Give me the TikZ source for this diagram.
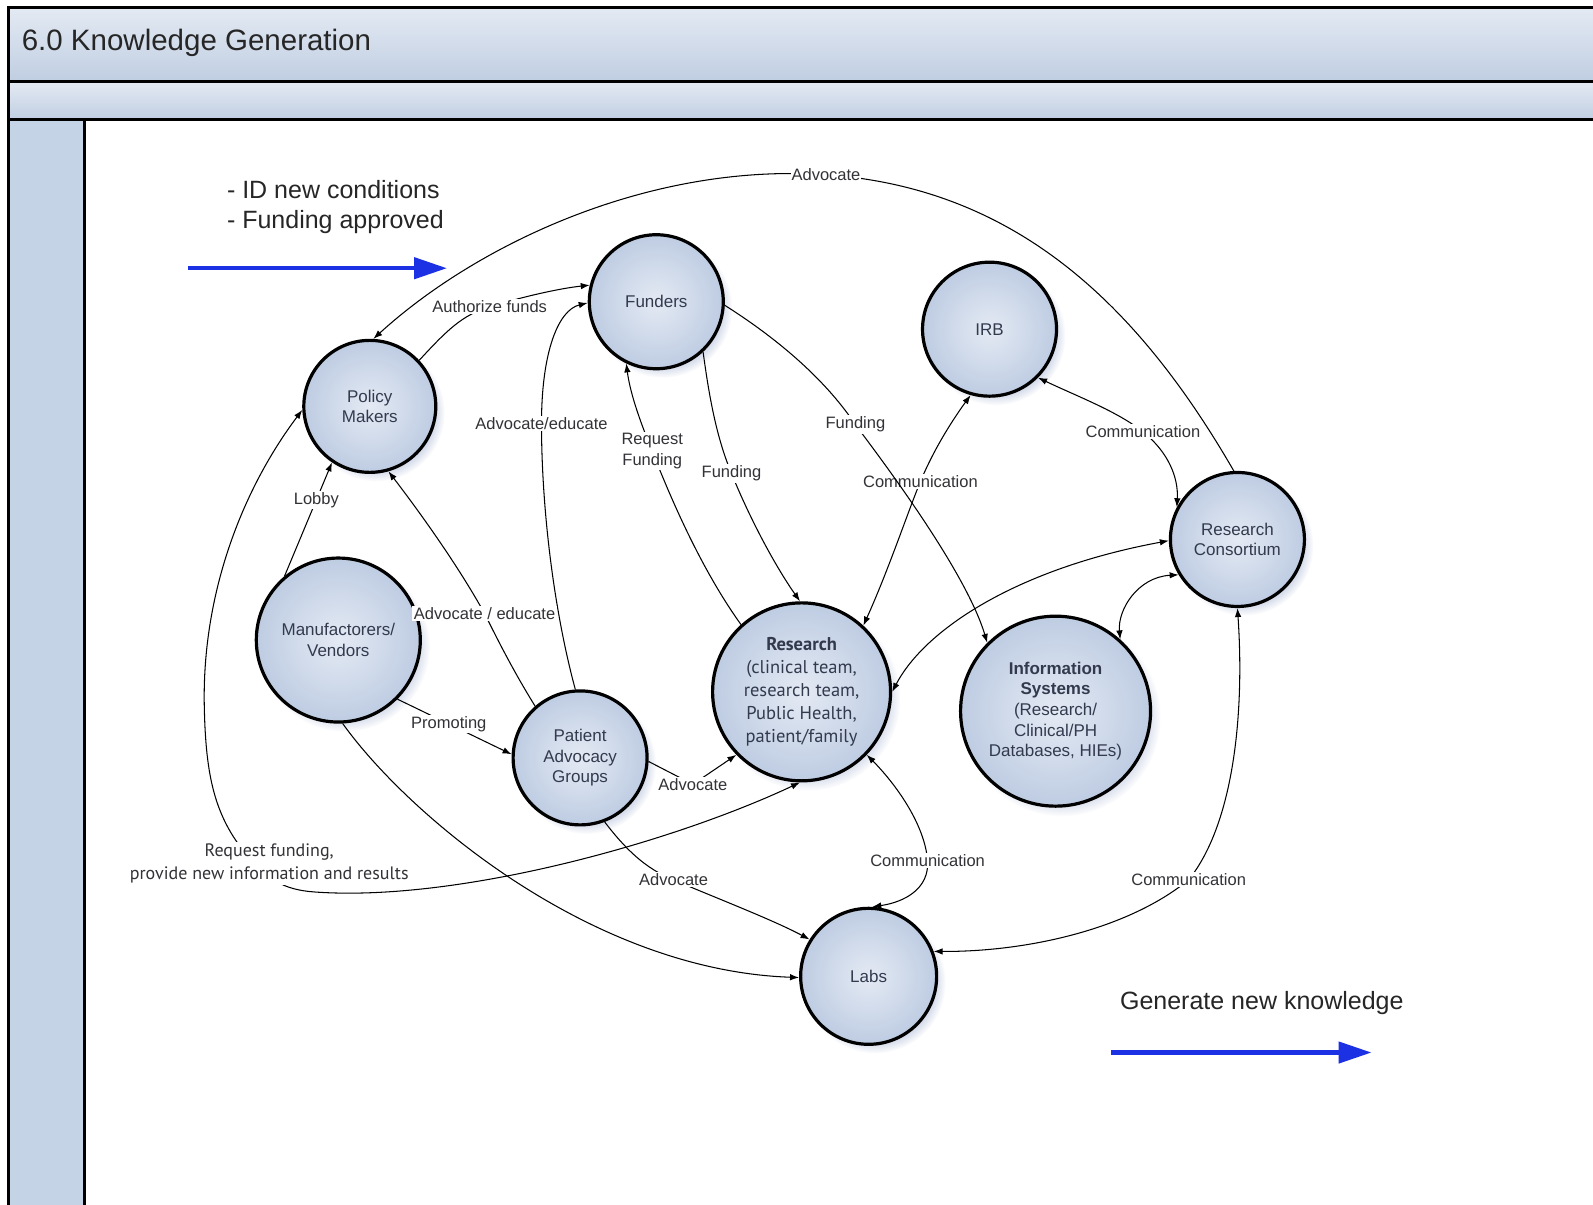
\documentclass[tikz,border=0pt]{standalone}
\usepackage{fontspec}
\setmainfont{Liberation Sans}
\newfontfamily\humanist{PT Sans}
\usetikzlibrary{arrows.meta,shadows,fadings}

\definecolor{bandtop}{RGB}{228,234,243}
\definecolor{bandbot}{RGB}{192,206,226}
\definecolor{colfill}{RGB}{197,211,230}
\definecolor{discin}{RGB}{228,234,244}
\definecolor{discout}{RGB}{190,204,226}
\definecolor{discshade}{RGB}{204,212,230}
\definecolor{nodetext}{RGB}{50,58,78}
\definecolor{lbltext}{RGB}{50,50,55}
\definecolor{flowblue}{RGB}{28,48,228}

\begin{document}
\begin{tikzpicture}[x=1.016pt,y=-1.016pt,
  ent/.style={circle, draw=black, line width=3.2pt, inner color=discin, outer color=discout,
    circular drop shadow={shadow xshift=6pt, shadow yshift=-6pt, shadow scale=1.04, fill=discshade, opacity=0.85},
    align=center, text=nodetext, font=\fontsize{17}{20.6}\selectfont, inner sep=0pt},
  lbl/.style={fill=white, inner sep=1.5pt, text=lbltext, align=center,
    font=\fontsize{16.5}{20.3}\selectfont},
  arr/.style={-{Latex[length=9pt,width=6.5pt]}, line width=1.05pt},
  biarr/.style={{Latex[length=9pt,width=6.5pt]}-{Latex[length=9pt,width=6.5pt]}, line width=1.05pt},
  flow/.style={-{Triangle[length=33pt,width=21pt]}, line width=4.5pt, draw=flowblue},
  bigtext/.style={text=black!85, font=\fontsize{25}{30.5}\selectfont, align=left}]

\useasboundingbox (0,0) rectangle (1568,1186);
\fill[white] (0,0) rectangle (1568,1186);

% swimlane frame
\draw[line width=3pt, top color=bandtop, bottom color=bandbot] (8,7) rectangle (1600,80);
\draw[line width=3pt, top color=bandtop, bottom color=bandbot] (8,80) rectangle (1600,118);
\draw[line width=3pt, fill=colfill] (8,118) rectangle (83,1200);
\node[anchor=west, text=black!85, font=\fontsize{29.5}{34}\selectfont] (title) at (18,42) {6.0 Knowledge Generation};

% side notes with flow arrows
\node[bigtext, anchor=west] (notes) at (220,204) {- ID new conditions\\- Funding approved};
\coordinate (inA) at (185,264);
\coordinate (inB) at (440,264);
\draw[flow] (inA) -- (inB);
\node[bigtext, anchor=west] (outtext) at (1099,987) {Generate new knowledge};
\coordinate (outA) at (1094,1036);
\coordinate (outB) at (1350,1036);
\draw[flow] (outA) -- (outB);

% actors
\node[ent, minimum size=132pt] (policy) at (364,400) {Policy\\Makers};
\node[ent, minimum size=134pt] (funders) at (646,297) {Funders};
\node[ent, minimum size=134pt] (irb) at (974,324) {IRB};
\node[ent, minimum size=164pt] (manuf) at (333,630) {Manufactorers/\\Vendors};
\node[ent, minimum size=134pt] (patient) at (571,746) {Patient\\Advocacy\\Groups};
\node[ent, minimum size=178pt, font=\humanist\fontsize{18.5}{22.8}\selectfont] (research) at (789,681)
  {\textbf{Research}\\(clinical team,\\research team,\\Public Health,\\patient/family};
\node[ent, minimum size=190pt] (infosys) at (1039,700)
  {\textbf{Information}\\\textbf{Systems}\\(Research/\\Clinical/PH\\Databases, HIEs)};
\node[ent, minimum size=134pt] (consort) at (1218,531) {Research\\Consortium};
\node[ent, minimum size=136pt] (labs) at (855,961) {Labs};

% interactions
\draw[arr] (consort.93) .. controls (1120,300) and (1000,185) .. (813,172)
  node[lbl, inner sep=1pt] (l-advtop) {Advocate}
  .. controls (640,160) and (470,240) .. (policy.87);

\draw[arr] (policy.43) .. controls (440,325) and (455,310) .. (482,302)
  node[lbl] (l-auth) {Authorize funds}
  .. controls (515,292) and (550,284) .. (funders.166);

\draw[arr] (patient.94) .. controls (545,600) and (533,500) .. (533,417)
  node[lbl] (l-adved) {Advocate/educate}
  .. controls (533,345) and (550,305) .. (funders.181);

\draw[arr] (research.132) .. controls (690,560) and (660,490) .. (642,444)
  node[lbl] (l-reqf) {Request\\Funding}
  .. controls (628,410) and (620,385) .. (funders.244);

\draw[arr] (funders.313) .. controls (698,390) and (705,430) .. (720,466)
  node[lbl] (l-fund1) {Funding}
  .. controls (740,515) and (765,560) .. (research.91);

\draw[biarr] (research.47) .. controls (875,560) and (895,500) .. (906,474)
  node[lbl] (l-commri) {Communication}
  .. controls (920,440) and (940,410) .. (irb.254);

\draw[arr] (funders.357) .. controls (760,330) and (810,370) .. (842,418)
  node[lbl] (l-fund2) {Funding}
  .. controls (862,445) and (950,560) .. (infosys.135);

\draw[biarr] (irb.315) .. controls (1060,390) and (1100,405) .. (1125,425)
  node[lbl] (l-commic) {Communication}
  .. controls (1150,445) and (1160,470) .. (consort.152);

\draw[biarr] (research.0) .. controls (910,620) and (1000,560) .. (consort.181);

\draw[biarr] (infosys.48) .. controls (1100,600) and (1120,568) .. (consort.211);

\draw[arr] (manuf.130) -- node[lbl, pos=0.67] (l-lobby) {Lobby} (policy.236);

\draw[arr] (patient.131) .. controls (505,660) and (490,630) .. (477,604)
  node[lbl] (l-adved2) {Advocate / educate}
  .. controls (450,555) and (410,500) .. (policy.286);

\draw[arr] (manuf.315) -- node[lbl, pos=0.45] (l-promo) {Promoting} (patient.177);

\draw[arr] (patient.357) -- (682,772) node[lbl] (l-advr) {Advocate} -- (research.224);

\draw[arr] (patient.291) .. controls (615,835) and (635,855) .. (663,866)
  node[lbl] (l-advl) {Advocate}
  .. controls (700,882) and (760,905) .. (labs.148);

\draw[arr] (manuf.273) .. controls (400,800) and (580,955) .. (labs.181);

\draw[biarr] (policy.183) .. controls (240,480) and (200,580) .. (201,690)
  .. controls (202,760) and (210,800) .. (240,838)
  .. controls (262,866) and (280,876) .. (310,878)
  .. controls (450,888) and (660,830) .. (research.269);
\node[lbl, font=\humanist\fontsize{18}{23.4}\selectfont] (l-reqinfo) at (265,850)
  {Request funding,\\provide new information and results};

\draw[biarr] (research.316) .. controls (880,770) and (910,810) .. (913,847)
  node[lbl] (l-commrl) {Communication}
  .. controls (915,875) and (890,888) .. (labs.87);

\draw[biarr] (consort.270) .. controls (1225,700) and (1215,810) .. (1170,866)
  node[lbl] (l-commcl) {Communication}
  .. controls (1110,915) and (1010,937) .. (labs.21);

\end{tikzpicture}
\end{document}
